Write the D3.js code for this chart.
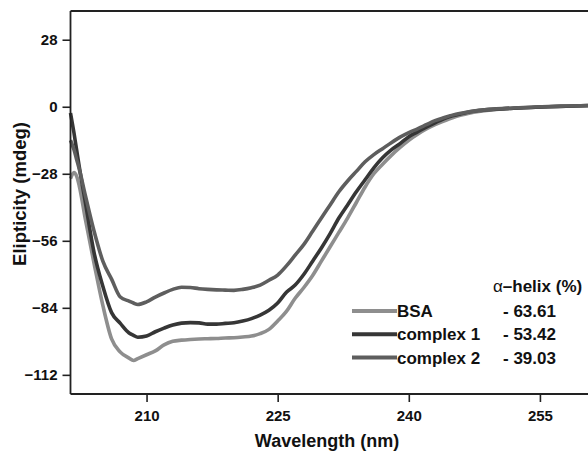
<!DOCTYPE html>
<html>
<head>
<meta charset="utf-8">
<script src="https://cdn.jsdelivr.net/npm/d3@7"></script>
<style>
  body { margin: 0; background: #fff; }
  text { font-family: "Liberation Sans", Arial, sans-serif; font-weight: bold; fill: #111; }
</style>
</head>
<body>
<div id="chart"></div>
<script>
// wavelength (nm) sample points
const wavelength = [201.3, 201.7, 202, 202.3, 203, 204, 205, 206, 207, 208, 208.5, 209, 210, 211, 212, 213, 214, 215, 216, 217, 218, 219, 220,
  221, 222, 223, 224, 225, 226, 227, 228, 229, 230, 231, 232, 233, 234, 235, 236, 237, 238, 239, 240,
  241, 242, 243, 244, 245, 246, 248, 250, 252, 254, 256, 258, 260.5];

// ellipticity (mdeg)
const bsa = [-30, -27.5, -29, -33, -47, -65.5, -83, -97, -102.5, -105, -106, -105.2, -103.6, -102, -99.5, -98, -97.5, -97.2, -97, -96.9, -96.8, -96.6, -96.5,
  -96.2, -95.8, -94.8, -93, -89.5, -85.5, -80, -75.5, -70.5, -64.5, -58.5, -52.5, -46.5, -40, -33.5, -28, -24, -20.3, -17, -14,
  -11.5, -9.3, -7.5, -6, -4.6, -3.5, -2, -1.1, -0.6, -0.3, 0, 0.2, 0.4];
const complex1 = [-2.6, -11, -18, -25, -40, -61, -75, -86, -90.5, -94.5, -95.5, -96.3, -95.8, -94, -92.5, -91.2, -90.4, -90.2, -90.3, -90.8, -90.8, -90.5, -90.2,
  -89.5, -88.5, -87, -85, -82, -77.5, -74.5, -70, -64.5, -59, -53, -46.5, -41, -35.5, -30.5, -25.5, -21.3, -18, -15.4, -12.5,
  -10.5, -8.5, -6.7, -5, -3.8, -2.9, -1.6, -1, -0.6, -0.3, 0, 0.2, 0.5];
const complex2 = [-14, -18, -22, -26, -37, -52, -64.5, -72, -79.5, -81.2, -82, -82.6, -81.5, -79.5, -77.8, -76.3, -75.4, -75.5, -76, -76.3, -76.5, -76.6, -76.7,
  -76.3, -75.6, -74.5, -72.5, -70.3, -66.5, -62, -57.5, -52, -46.5, -41, -35.5, -31, -27, -23, -20, -17.5, -15, -12.7, -10.8,
  -9.2, -7.5, -5.8, -4.6, -3.5, -2.7, -1.5, -0.9, -0.5, -0.2, 0.1, 0.3, 0.5];

const xTicks = [210, 225, 240, 255];
const yTicks = [28, 0, -28, -56, -84, -112];
const seriesNames = ['BSA', 'complex 1', 'complex 2'];
const helix = ['- 63.61', '- 53.42', '- 39.03'];

let width = 588, height = 452;
let margin = {top: 11, right: 0, bottom: 58, left: 70.5};
let colors = ['#8e8e8e', '#363636', '#5e5e5e'];

let svg = d3.select('#chart')
  .append('svg')
  .attr('width', width)
  .attr('height', height);

let x = d3.scaleLinear()
  .domain([201.3, 260.5])
  .range([margin.left, width - margin.right]);
let y = d3.scaleLinear()
  .domain([-120, 40])
  .range([height - margin.bottom, margin.top]);

// curves
let line = d3.line()
  .x(d => x(d[0]))
  .y(d => y(d[1]))
  .curve(d3.curveMonotoneX);

let series = [bsa, complex1, complex2];
svg.append('g')
  .selectAll('path')
  .data(series)
  .enter()
  .append('path')
  .attr('d', s => line(wavelength.map((w, i) => [w, s[i]])))
  .attr('fill', 'none')
  .attr('stroke', (d, i) => colors[i])
  .attr('stroke-width', 3.6)
  .attr('stroke-linejoin', 'round');

// axes
let xAxis = svg.append('g')
  .attr('transform', 'translate(0,' + (height - margin.bottom) + ')')
  .call(d3.axisBottom(x).tickValues(xTicks).tickSize(8).tickPadding(8));
let yAxis = svg.append('g')
  .attr('transform', 'translate(' + margin.left + ',0)')
  .call(d3.axisLeft(y).tickValues(yTicks).tickSize(8).tickPadding(5));

[xAxis, yAxis].forEach(a => {
  a.select('.domain').attr('stroke', '#222').attr('stroke-width', 1.8);
  a.selectAll('.tick line').attr('stroke', '#222').attr('stroke-width', 1.6);
  a.selectAll('.tick text').attr('font-size', 15).attr('font-family', null).attr('fill', '#111');
});
xAxis.select('.domain').attr('d', 'M' + margin.left + ',0H' + width);
yAxis.select('.domain').attr('d', 'M0,' + margin.top + 'V' + (height - margin.bottom));

// top frame line
svg.append('line')
  .attr('x1', margin.left).attr('x2', width)
  .attr('y1', margin.top).attr('y2', margin.top)
  .attr('stroke', '#222').attr('stroke-width', 1.8);

// axis titles
svg.append('text')
  .attr('x', 327).attr('y', 447)
  .attr('text-anchor', 'middle')
  .attr('font-size', 18)
  .text('Wavelength (nm)');
svg.append('text')
  .attr('transform', 'translate(26,194) rotate(-90)')
  .attr('text-anchor', 'middle')
  .attr('font-size', 18.5)
  .text('Elipticity (mdeg)');

// legend
let legend = svg.append('g');
let head = legend.append('text')
  .attr('x', 493).attr('y', 292)
  .attr('font-size', 17);
head.append('tspan').attr('font-weight', 'normal').text('α');
head.append('tspan').text('–helix (%)');

let rows = legend.selectAll('.row')
  .data(seriesNames)
  .enter()
  .append('g')
  .attr('class', 'row')
  .attr('transform', (d, i) => 'translate(0,' + (311 + i * 23.3) + ')');
rows.append('line')
  .attr('x1', 352).attr('x2', 397)
  .attr('stroke', (d, i) => colors[i])
  .attr('stroke-width', 4);
rows.append('text')
  .attr('x', 397).attr('y', 6)
  .attr('font-size', 17)
  .text(d => d);
rows.append('text')
  .attr('x', 503).attr('y', 6)
  .attr('font-size', 17)
  .text((d, i) => helix[i]);
</script>
</body>
</html>
